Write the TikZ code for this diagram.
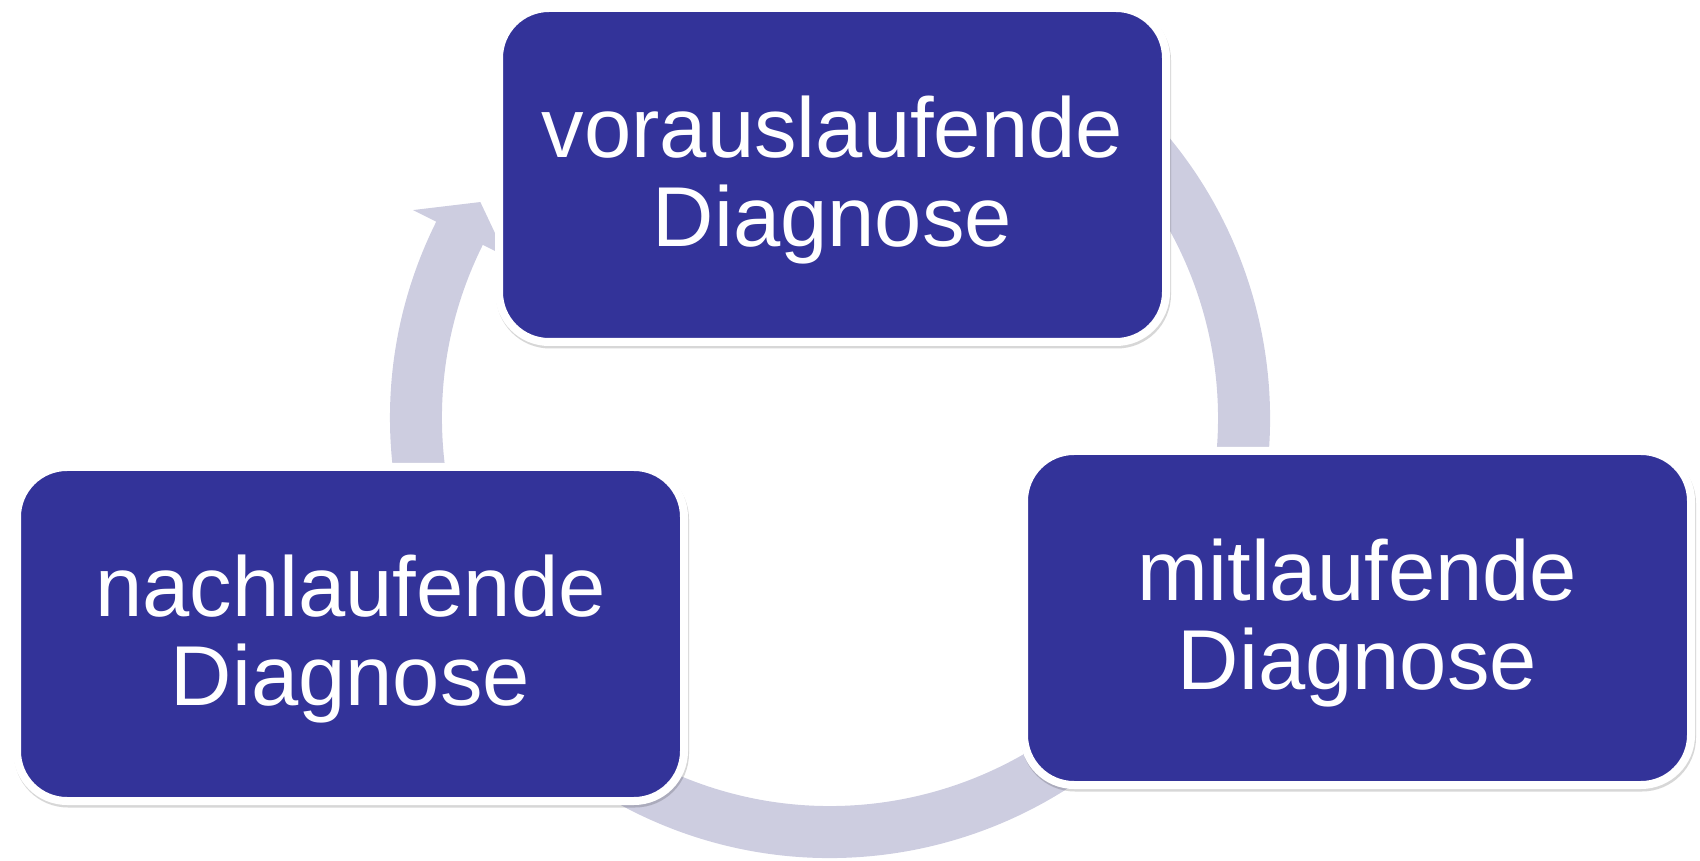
\documentclass[tikz,border=0pt]{standalone}
\usepackage{fontspec}
\setmainfont{Liberation Sans}
\usetikzlibrary{shadows}
\definecolor{boxblue}{RGB}{51,51,153}
\definecolor{ringgray}{RGB}{205,205,224}
\newcommand\myliftstrut{\rule{0pt}{72pt}}
\begin{document}
\begin{tikzpicture}[x=1pt,y=1pt,
  softshadow/.style={general shadow={fill=none, draw=black, draw opacity=#1,
    shadow xshift=1pt, shadow yshift=-2.5pt}},
  stagebox/.style={rounded corners=50pt, fill=boxblue, draw=white, line width=8pt,
    minimum width=667pt, minimum height=334pt, text=white, align=center,
    font=\fontsize{85}{89}\selectfont,
    softshadow=.035, general shadow={line width=17pt},
    softshadow=.05, general shadow={line width=13pt},
    softshadow=.08, general shadow={line width=10pt}},
  ringshape/.style={fill=ringgray, draw=none}]
\useasboundingbox (0,0) rectangle (1700,860);
\coordinate (c) at (830,442);
\fill[ringshape] ([shift={(60:440)}]c) arc[start angle=60,end angle=-206.5,radius=440]
  -- ([shift={(153.5:466)}]c) -- ([shift={(148.3:411)}]c) -- ([shift={(153.5:362)}]c)
  -- ([shift={(153.5:388)}]c) arc[start angle=-206.5,end angle=60,radius=388] -- cycle;
\node[stagebox] (pre) at (832.5,685) {\myliftstrut vorauslaufende\\Diagnose};
\node[stagebox] (mit) at (1357.5,242) {\myliftstrut mitlaufende\\Diagnose};
\node[stagebox] (nach) at (350.5,226) {\myliftstrut nachlaufende\\Diagnose};
\end{tikzpicture}
\end{document}
